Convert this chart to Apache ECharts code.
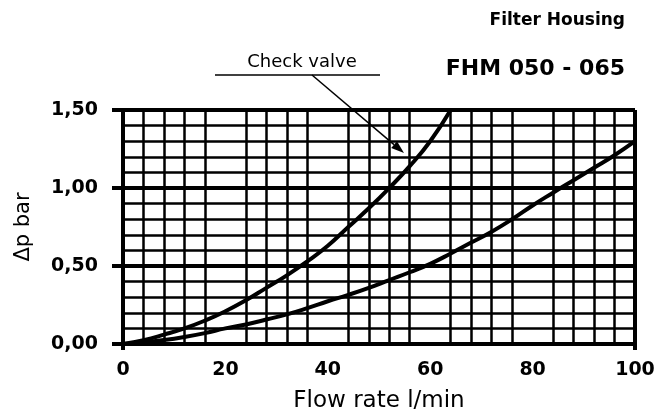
<!DOCTYPE html>
<html>
<head>
<meta charset="utf-8">
<script src="https://cdn.jsdelivr.net/npm/echarts@6/dist/echarts.min.js"></script>
<style>html,body{margin:0;padding:0;background:#fff}#c{width:659px;height:419px}</style>
</head>
<body>
<div id="c"></div>
<script>
// Flow rate (l/min) sample points
const flowSteep = [0, 4, 8, 12, 16, 20, 24, 28, 32, 36, 40, 44, 48, 52, 56, 60, 64];
const dpSteep   = [0, 0.025, 0.06, 0.10, 0.15, 0.21, 0.28, 0.36, 0.44, 0.53, 0.63, 0.75, 0.87, 1.00, 1.14, 1.30, 1.50];
const flowFlat  = [0, 4, 8, 12, 16, 20, 24, 28, 32, 36, 40, 44, 48, 52, 56, 60, 64, 68, 72, 76, 80, 84, 88, 92, 96, 100];
const dpFlat    = [0, 0.01, 0.025, 0.045, 0.07, 0.10, 0.125, 0.157, 0.19, 0.23, 0.274, 0.315, 0.36, 0.41, 0.46, 0.514, 0.58, 0.65, 0.72, 0.80, 0.888, 0.97, 1.05, 1.13, 1.21, 1.30];
const xTicks = [0, 20, 40, 60, 80, 100];
const yTicks = [0, 0.5, 1.0, 1.5];
const title = 'Filter Housing';
const subtitle = 'FHM 050 - 065';
const annotation = 'Check valve';
const xName = 'Flow rate l/min';
const yName = 'Δp bar';

const chart = echarts.init(document.getElementById('c'), null, {renderer: 'canvas'});
const bold = 'DejaVu Sans';
const zip = (xs, ys) => xs.map((x, i) => [x, ys[i]]);

chart.setOption({
  backgroundColor: '#fff',
  animation: false,
  grid: {left: 123, right: 24, top: 110, height: 234, containLabel: false},
  xAxis: {
    type: 'value', min: xTicks[0], max: xTicks[xTicks.length - 1], interval: 20,
    name: xName, nameLocation: 'middle', nameGap: 46,
    nameTextStyle: {fontFamily: 'DejaVu Sans', fontSize: 23, color: '#000'},
    axisLine: {show: true, lineStyle: {color: '#000', width: 4}},
    axisTick: {show: true, customValues: [0, 100], length: 6, lineStyle: {color: '#000', width: 4}},
    axisLabel: {fontFamily: bold, fontWeight: 'bold', fontSize: 19, color: '#000', margin: 17},
    splitLine: {show: true, lineStyle: {color: '#000', width: 4}},
    minorTick: {show: false, splitNumber: 5},
    minorSplitLine: {show: true, lineStyle: {color: '#000', width: 2.5}}
  },
  yAxis: {
    type: 'value', min: yTicks[0], max: yTicks[yTicks.length - 1], interval: 0.5,
    name: yName, nameLocation: 'middle', nameGap: 89, nameRotate: 90,
    nameTextStyle: {fontFamily: 'DejaVu Sans', fontSize: 21, color: '#000'},
    axisLine: {show: true, lineStyle: {color: '#000', width: 4}},
    axisTick: {show: true, length: 11, lineStyle: {color: '#000', width: 4}},
    axisLabel: {fontFamily: bold, fontWeight: 'bold', fontSize: 19, color: '#000', margin: 25,
      formatter: v => v.toFixed(2).replace('.', ',')},
    splitLine: {show: true, lineStyle: {color: '#000', width: 4}},
    minorTick: {show: false, splitNumber: 5},
    minorSplitLine: {show: true, lineStyle: {color: '#000', width: 2.5}}
  },
  series: [
    {type: 'line', data: zip(flowSteep, dpSteep), smooth: true, symbol: 'none',
     lineStyle: {color: '#000', width: 4}, z: 5},
    {type: 'line', data: zip(flowFlat, dpFlat), smooth: true, symbol: 'none',
     lineStyle: {color: '#000', width: 4}, z: 5}
  ],
  graphic: [
    {type: 'text', right: 659 - 625, top: 12,
     style: {text: title, fontFamily: bold, fontWeight: 'bold', fontSize: 17, fill: '#000'}},
    {type: 'text', right: 659 - 625, top: 58,
     style: {text: subtitle, fontFamily: bold, fontWeight: 'bold', fontSize: 22, fill: '#000'}},
    {type: 'text', x: 302, y: 62,
     style: {text: annotation, fontFamily: 'DejaVu Sans', fontSize: 18, fill: '#000', align: 'center', verticalAlign: 'middle'}},
    {type: 'line', shape: {x1: 215, y1: 75, x2: 380, y2: 75}, style: {stroke: '#000', lineWidth: 1.5}},
    {type: 'line', shape: {x1: 312, y1: 75, x2: 394, y2: 144.6}, style: {stroke: '#000', lineWidth: 1.5}},
    {type: 'polygon', shape: {points: [[404, 153], [391.2, 148.0], [397.0, 141.2]]}, style: {fill: '#000'}}
  ]
});
</script>
</body>
</html>
